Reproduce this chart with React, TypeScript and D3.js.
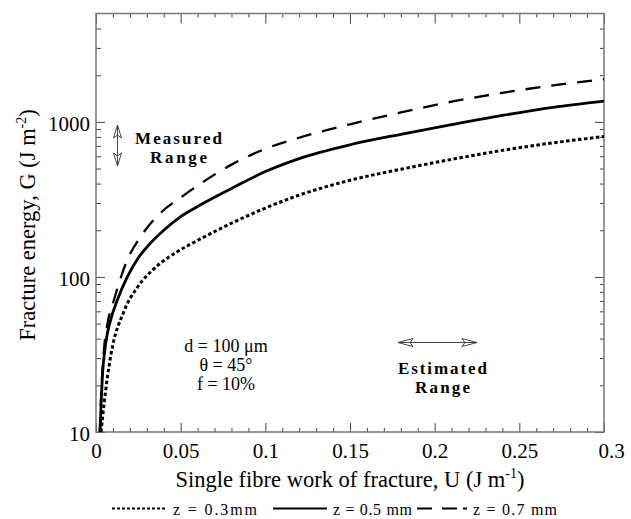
import { useEffect, useRef } from "react";
import * as d3 from "d3";

// z = 0.3 mm (dotted)
const uDotted = [0.003, 0.0047, 0.0087, 0.0165, 0.0242, 0.0343, 0.0478, 0.06, 0.08, 0.1, 0.12, 0.15, 0.18, 0.21, 0.24, 0.27, 0.3];
const gDotted = [10, 15, 31, 60, 85, 113, 145, 172, 222, 278, 337, 420, 495, 573, 655, 733, 805];

// z = 0.5 mm (solid)
const uSolid = [0.0024, 0.003, 0.0037, 0.0057, 0.0087, 0.0126, 0.0185, 0.025, 0.031, 0.04, 0.05, 0.06, 0.08, 0.1, 0.12, 0.15, 0.18, 0.21, 0.24, 0.27, 0.3];
const gSolid = [10, 15, 22, 37, 53, 71, 100, 133, 160, 200, 245, 285, 372, 478, 580, 712, 832, 960, 1100, 1240, 1360];

// z = 0.7 mm (dashed)
const uDashed = [0.0022, 0.003, 0.0047, 0.0065, 0.0106, 0.0185, 0.0264, 0.038, 0.05, 0.06, 0.08, 0.1, 0.12, 0.15, 0.18, 0.21, 0.24, 0.27, 0.3];
const gDashed = [10, 17, 34, 48, 71, 129, 182, 258, 325, 388, 530, 670, 790, 965, 1150, 1350, 1540, 1720, 1885];

const xMajorTicks = [0, 0.05, 0.1, 0.15, 0.2, 0.25, 0.3];
const xTickLabels = ["0", "0.05", "0.1", "0.15", "0.2", "0.25", "0.3"];
const xMinorTicks = d3.range(0, 31).map(i => i / 100).filter(v => Math.round(v * 100) % 5 !== 0);
const yMajorTicks = [10, 100, 1000];
const yTickLabels = ["10", "100", "1000"];
const yMinorTicks = [20, 30, 40, 50, 60, 70, 80, 90, 200, 300, 400, 500, 600, 700, 800, 900, 2000, 3000, 4000];

const serif = "'Liberation Serif', 'Times New Roman', serif";

export default function App() {
  const ref = useRef<SVGSVGElement>(null);

  useEffect(() => {
    const svg = d3.select(ref.current);
    svg.selectAll("*").remove();

    const left = 96, right = 604, top = 13.5, bottom = 432;
    const x = d3.scaleLinear().domain([0, 0.3]).range([left, right]);
    const y = d3.scaleLog().domain([10, 5000]).range([bottom, top]);

    svg.append("defs").append("clipPath").attr("id", "plot-clip")
      .append("rect")
      .attr("x", left).attr("y", top)
      .attr("width", right - left).attr("height", bottom - top);

    // axes (ticks inward)
    const styleAxis = (g: any) => {
      g.select(".domain").remove();
      g.selectAll(".tick line").attr("stroke", "#444").attr("stroke-width", 1);
    };

    svg.append("g").attr("transform", `translate(0,${bottom})`)
      .call(d3.axisBottom(x).tickValues(xMinorTicks).tickSizeInner(-4).tickSizeOuter(0).tickFormat(() => ""))
      .call(styleAxis);
    const xb = svg.append("g").attr("transform", `translate(0,${bottom})`)
      .call(d3.axisBottom(x).tickValues(xMajorTicks).tickSizeInner(-9).tickSizeOuter(0).tickPadding(11)
        .tickFormat((d, i) => xTickLabels[i]))
      .call(styleAxis);
    xb.selectAll("text").attr("font-family", serif).attr("font-size", 21).attr("fill", "#000");
    xb.selectAll(".tick").filter((d: any) => d === 0.3).select("text").attr("dx", 7);

    svg.append("g").attr("transform", `translate(0,${top})`)
      .call(d3.axisTop(x).tickValues(xMinorTicks).tickSizeInner(-4).tickSizeOuter(0).tickFormat(() => ""))
      .call(styleAxis);
    svg.append("g").attr("transform", `translate(0,${top})`)
      .call(d3.axisTop(x).tickValues(xMajorTicks).tickSizeInner(-10).tickSizeOuter(0).tickFormat(() => ""))
      .call(styleAxis);

    svg.append("g").attr("transform", `translate(${left},0)`)
      .call(d3.axisLeft(y).tickValues(yMinorTicks).tickSizeInner(-5).tickSizeOuter(0).tickFormat(() => ""))
      .call(styleAxis);
    const yl = svg.append("g").attr("transform", `translate(${left},0)`)
      .call(d3.axisLeft(y).tickValues(yMajorTicks).tickSizeInner(-9).tickSizeOuter(0).tickPadding(6)
        .tickFormat((d, i) => yTickLabels[i]))
      .call(styleAxis);
    yl.selectAll("text").attr("font-family", serif).attr("font-size", 21).attr("fill", "#000").attr("dy", "0.4em");

    svg.append("g").attr("transform", `translate(${right},0)`)
      .call(d3.axisRight(y).tickValues(yMinorTicks).tickSizeInner(-4).tickSizeOuter(0).tickFormat(() => ""))
      .call(styleAxis);
    svg.append("g").attr("transform", `translate(${right},0)`)
      .call(d3.axisRight(y).tickValues(yMajorTicks).tickSizeInner(-9).tickSizeOuter(0).tickFormat(() => ""))
      .call(styleAxis);

    // frame
    svg.append("rect")
      .attr("x", left).attr("y", top)
      .attr("width", right - left).attr("height", bottom - top)
      .attr("fill", "none").attr("stroke", "#777").attr("stroke-width", 1.5);

    // curves
    const line = d3.line<[number, number]>()
      .x(d => x(d[0]))
      .y(d => y(d[1]))
      .curve(d3.curveMonotoneX);

    const series = [
      { u: uDotted, g: gDotted, width: 3, dash: "3.5,2.5" },
      { u: uSolid, g: gSolid, width: 2.8, dash: null },
      { u: uDashed, g: gDashed, width: 2.3, dash: "15,11" },
    ];

    const curves = svg.append("g").attr("clip-path", "url(#plot-clip)");
    series.forEach(s => {
      const pts = s.u.map((u, i) => [u, s.g[i]] as [number, number]);
      curves.append("path")
        .datum(pts)
        .attr("fill", "none")
        .attr("stroke", "#000")
        .attr("stroke-width", s.width)
        .attr("stroke-dasharray", s.dash)
        .attr("d", line);
    });

    // axis titles
    const xt = svg.append("text")
      .attr("x", (left + right) / 2).attr("y", 487)
      .attr("text-anchor", "middle")
      .attr("font-family", serif).attr("font-size", 22.5);
    xt.append("tspan").text("Single fibre work of fracture, U (J m");
    xt.append("tspan").attr("dy", -9).attr("font-size", 14).text("-1");
    xt.append("tspan").attr("dy", 9).text(")");

    const yt = svg.append("text")
      .attr("transform", "translate(35,225) rotate(-90)")
      .attr("text-anchor", "middle")
      .attr("font-family", serif).attr("font-size", 22.5);
    yt.append("tspan").text("Fracture energy, G (J m");
    yt.append("tspan").attr("dy", -9).attr("font-size", 14).text("-2");
    yt.append("tspan").attr("dy", 9).text(")");

    // parameters
    const params = [
      { t: "d = 100 \u03bcm", y: 352 },
      { t: "\u03b8 = 45\u00b0", y: 371 },
      { t: "f = 10%", y: 390 },
    ];
    params.forEach(p => {
      svg.append("text")
        .attr("x", 226).attr("y", p.y)
        .attr("text-anchor", "middle")
        .attr("font-family", serif).attr("font-size", 18)
        .text(p.t);
    });

    // range annotations
    const bold = (t: string, xx: number, yy: number, len: number) =>
      svg.append("text")
        .attr("x", xx).attr("y", yy)
        .attr("font-family", serif).attr("font-size", 17).attr("font-weight", "bold")
        .attr("textLength", len).attr("lengthAdjust", "spacing")
        .text(t);
    bold("Measured", 135, 144, 87);
    bold("Range", 150, 163, 57);
    bold("Estimated", 398, 374, 89);
    bold("Range", 415, 393, 55);

    const arrows = svg.append("g").attr("fill", "none").attr("stroke", "#333").attr("stroke-width", 0.9);
    // vertical double arrow
    const ax = 117.5, ay0 = 125, ay1 = 166;
    arrows.append("line").attr("x1", ax).attr("x2", ax).attr("y1", ay0).attr("y2", ay1);
    arrows.append("path").attr("d", `M${ax},${ay0} L${ax - 4},${ay0 + 13} L${ax},${ay0 + 10} L${ax + 4},${ay0 + 13} Z`);
    arrows.append("path").attr("d", `M${ax},${ay1} L${ax - 4},${ay1 - 13} L${ax},${ay1 - 10} L${ax + 4},${ay1 - 13} Z`);
    // horizontal double arrow
    const hy = 342.5, hx0 = 398, hx1 = 477;
    arrows.append("line").attr("x1", hx0).attr("x2", hx1).attr("y1", hy).attr("y2", hy);
    arrows.append("path").attr("d", `M${hx0},${hy} L${hx0 + 15},${hy - 4} L${hx0 + 12},${hy} L${hx0 + 15},${hy + 4} Z`);
    arrows.append("path").attr("d", `M${hx1},${hy} L${hx1 - 15},${hy - 4} L${hx1 - 12},${hy} L${hx1 - 15},${hy + 4} Z`);

    // legend
    const legend = svg.append("g").attr("font-family", serif).attr("font-size", 16);
    const ly = 508.5;
    legend.append("line").attr("x1", 112).attr("x2", 167).attr("y1", ly).attr("y2", ly)
      .attr("stroke", "#000").attr("stroke-width", 2).attr("stroke-dasharray", "3,2");
    legend.append("text").attr("x", 173).attr("y", 515).attr("textLength", 84).attr("lengthAdjust", "spacing").text("z = 0.3mm");
    legend.append("line").attr("x1", 273).attr("x2", 327).attr("y1", ly).attr("y2", ly)
      .attr("stroke", "#000").attr("stroke-width", 2);
    legend.append("text").attr("x", 333).attr("y", 515).attr("textLength", 79).attr("lengthAdjust", "spacing").text("z = 0.5 mm");
    legend.append("line").attr("x1", 417).attr("x2", 467).attr("y1", ly).attr("y2", ly)
      .attr("stroke", "#000").attr("stroke-width", 2).attr("stroke-dasharray", "15,10,15,6,4,100");
    legend.append("text").attr("x", 473).attr("y", 515).attr("textLength", 84).attr("lengthAdjust", "spacing").text("z = 0.7 mm");
  }, []);

  return (
    <svg
      ref={ref}
      width={631}
      height={519}
      style={{ position: "absolute", left: 0, top: 0, background: "#fff" }}
    />
  );
}
